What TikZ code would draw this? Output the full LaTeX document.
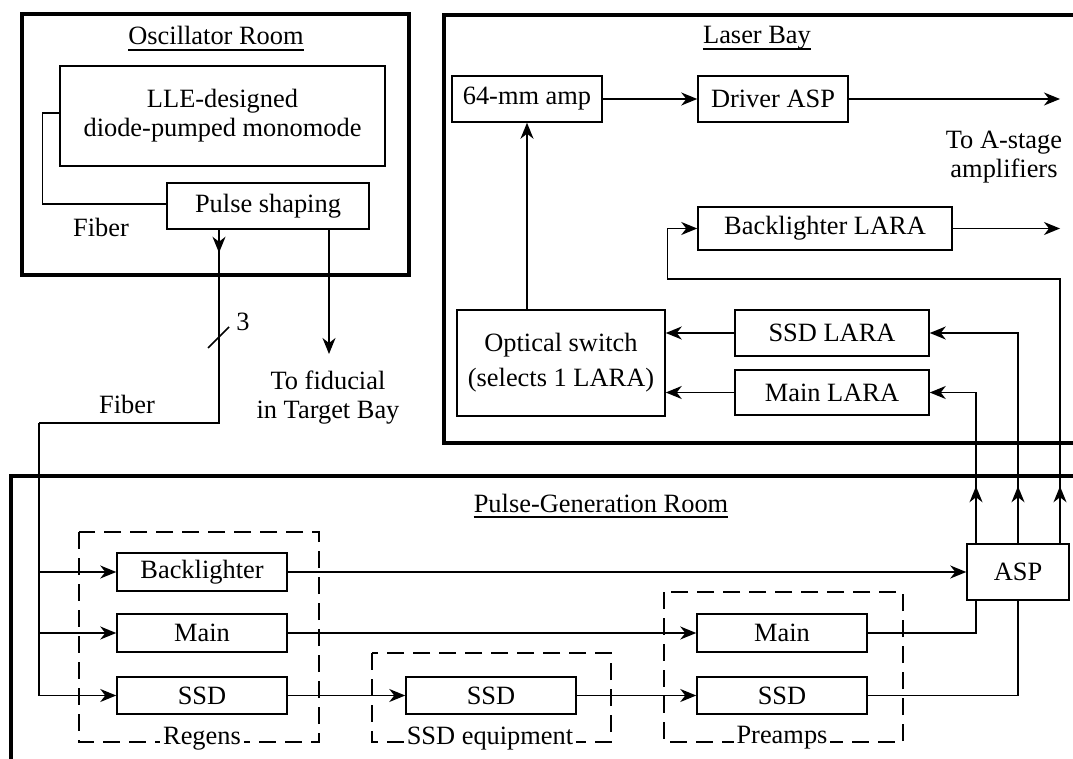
\documentclass[tikz,border=0pt]{standalone}
\usepackage{fontspec}
\setmainfont{Liberation Serif}
\usetikzlibrary{arrows.meta}

\begin{document}
\begin{tikzpicture}[x=1pt,y=-1pt, font=\fontsize{26.4pt}{29pt}\selectfont, line join=miter]
	\useasboundingbox (0,0) rectangle (1073,759);
	\clip (0,0) rectangle (1073,759);
	
	% ===== styles =====
	\tikzset{
		blk/.style={draw, line width=1.5pt, inner sep=0pt, align=center},
		room/.style={draw, line width=3.2pt},
		grp/.style={draw, line width=1.5pt, dash pattern=on 17pt off 9pt},
		grplabel/.style={fill=white, inner sep=3pt},
		roomtitle/.style={anchor=base, inner sep=0pt},
		wire/.style={line width=1.5pt},
		arr/.style={wire, -{Stealth[length=16pt,width=13pt,inset=5pt]}}
	}
	
	% ===== rooms =====
	\draw[room] (22,14) rectangle (409,275);
	\draw[room] (444,15) rectangle (1095,443);
	\draw[room] (11,476) rectangle (1095,780);
	
	\node[roomtitle] (osct) at (216,45) {Oscillator Room};
	\node[roomtitle] (lbt) at (757,44) {Laser Bay};
	\node[roomtitle] (pgt) at (601,512) {Pulse-Generation Room};
	\foreach \t in {osct,lbt,pgt}{
		\draw[line width=1.3pt] ([yshift=-5pt]\t.base west) -- ([yshift=-5pt]\t.base east);
	}
	
	% ===== oscillator room =====
	\node[blk, minimum width=325pt, minimum height=100pt] (lle) at (222.5,116) {LLE-designed\\diode-pumped monomode};
	\node[blk, minimum width=202pt, minimum height=46pt] (ps) at (268,206) {Pulse shaping};
	\draw[wire] ([yshift=3pt]lle.west) -- ++(-17,0) |- ([yshift=2pt]ps.west);
	\node (fib1) at (101,227) {Fiber};
	
	% fiber down to the regens
	\coordinate (fsplit) at (39,423);
	\draw[arr] ([xshift=-49pt]ps.south) -- ++(0,23);
	\draw[wire] ([xshift=-49pt]ps.south) |- (fsplit);
	\draw[wire] (208,348) -- (229,327);
	\node (n3) at (243,322) {3};
	\node (fib2) at (127,404) {Fiber};
	
	% fiducial
	\coordinate (fidtip) at (329,354);
	\draw[arr] (ps.south -| fidtip) -- (fidtip);
	\node[align=center] (fid) at (328,398) {To fiducial\\in Target Bay};
	
	% ===== laser bay =====
	\node[blk, minimum width=150pt, minimum height=46pt] (amp) at (527,99) {64-mm amp};
	\node[blk, minimum width=150pt, minimum height=46pt] (drv) at (773,99) {Driver ASP};
	\coordinate (astip) at (1060,99);
	\node[align=center] (astage) at (1004,157) {To A-stage\\amplifiers};
	
	\node[blk, minimum width=254pt, minimum height=43pt] (bll) at (825,228.5) {Backlighter LARA};
	\coordinate (bltip) at (1060,228.5);
	
	\node[blk, minimum width=208pt, minimum height=106pt, font=\fontsize{26.4pt}{35pt}\selectfont] (opt) at (561,363) {Optical switch\\(selects 1 LARA)};
	\node[blk, minimum width=194pt, minimum height=46pt] (ssdl) at (832,333) {SSD LARA};
	\node[blk, minimum width=194pt, minimum height=45pt] (mainl) at (832,392.5) {Main LARA};
	
	\draw[arr] (amp) -- (drv);
	\draw[arr] (drv) -- (astip);
	\draw[arr] (bll) -- (bltip);
	\draw[arr] (amp.south |- opt.north) -- (amp.south);
	\draw[arr] (ssdl.west) -- (ssdl.west -| opt.east);
	\draw[arr] (mainl.west) -- (mainl.west -| opt.east);
	
	% ===== pulse-generation room =====
	% dashed groups
	\draw[grp] (79,532) rectangle (319,742);
	\draw[grp] (372,653) rectangle (611,742);
	\draw[grp] (664,592) rectangle (903,742);
	\node[grplabel] (regl) at (202,739) {Regens};
	\node[grplabel] (ssdel) at (490,739) {SSD equipment};
	\node[grplabel] (prel) at (782,738) {Preamps};
	
	% regens
	\node[blk, minimum width=170pt, minimum height=38pt] (rbl) at (202,572) {Backlighter};
	\node[blk, minimum width=170pt, minimum height=38pt] (rmain) at (202,633) {Main};
	\node[blk, minimum width=170pt, minimum height=37pt] (rssd) at (202,695.5) {SSD};
	% ssd equipment, preamps
	\node[blk, minimum width=170pt, minimum height=37pt] (ssde) at (491,695.5) {SSD};
	\node[blk, minimum width=170pt, minimum height=38pt] (pmain) at (782,633) {Main};
	\node[blk, minimum width=170pt, minimum height=37pt] (pssd) at (782,695.5) {SSD};
	\node[blk, minimum width=102pt, minimum height=56pt] (asp) at (1018,572) {ASP};
	
	\foreach \b in {rbl,rmain,rssd}{
		\draw[arr] (fsplit) |- (\b.west);
	}
	\draw[arr] (rbl.east) -- (asp.west);
	\draw[arr] (rmain) -- (pmain);
	\draw[arr] (rssd) -- (ssde);
	\draw[arr] (ssde) -- (pssd);
	\draw[wire] (pmain.east) -| ([xshift=-42pt]asp.south);
	\draw[wire] (pssd.east) -| (asp.south);
	
	% ASP up to the laser bay
	\foreach \dx in {-42,0,42}{
		\draw[arr] ([xshift=\dx pt]asp.north) -- ++(0,-57);
	}
	\draw[arr] ([xshift=-42pt]asp.north) |- (mainl.east);
	\draw[arr] (asp.north) |- (ssdl.east);
	\draw[arr] ([xshift=42pt]asp.north) -- ++(0,-264) -| ([xshift=-30pt]bll.west) -- (bll.west);
	
\end{tikzpicture}
\end{document}
